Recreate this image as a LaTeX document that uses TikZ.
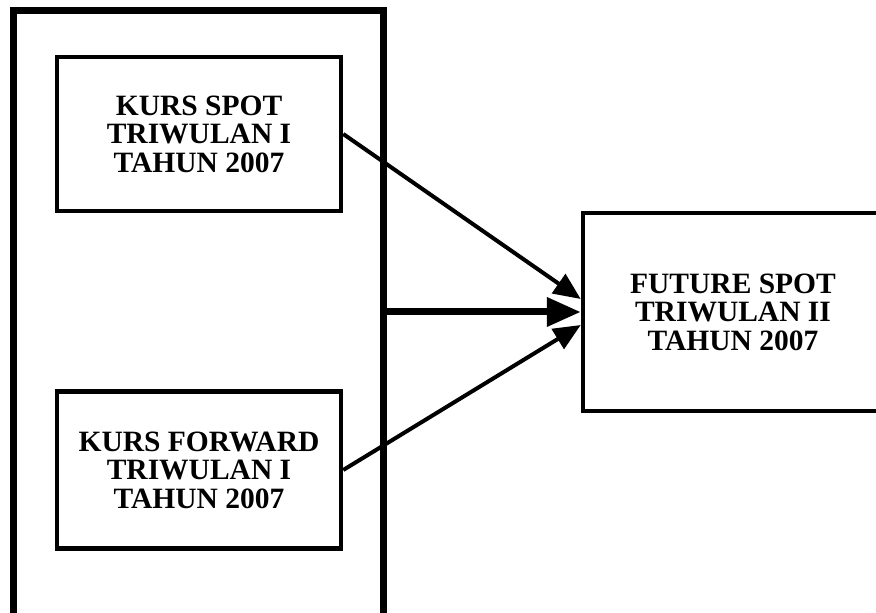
\documentclass[tikz,border=0pt]{standalone}
\usepackage{fontspec}
\setmainfont{Liberation Serif}
\usetikzlibrary{arrows.meta}

\begin{document}
\begin{tikzpicture}[x=1pt,y=1pt,
  box/.style={draw,line width=4.5pt,align=center,inner sep=0pt,
    font=\fontsize{29.5}{28.5}\selectfont\bfseries},
  arr/.style={line width=4pt,-{Triangle[length=27pt,width=23pt]}}]
  \useasboundingbox (0,0) rectangle (876,613);
  \clip (0,0) rectangle (876,613);
  % frame round the two inputs
  \node[draw,line width=7pt,minimum width=370pt,minimum height=620pt] (outer) at (198,292) {};
  \node[box,minimum width=284pt,minimum height=154pt] (spot) at (199,479) {KURS SPOT\\TRIWULAN I\\TAHUN 2007};
  \node[box,minimum width=284pt,minimum height=157pt] (forward) at (199,143) {KURS FORWARD\\TRIWULAN I\\TAHUN 2007};
  \node[box,minimum width=300pt,minimum height=198pt] (future) at (733,301) {FUTURE SPOT\\TRIWULAN II\\TAHUN 2007};
  \coordinate (mid) at (outer.east |- future.west);
  \draw[arr] (spot.east) -- ([yshift=13pt]future.west);
  \draw[arr,line width=7pt,-{Triangle[length=34pt,width=28pt]}] (mid) -- (future.west);
  \draw[arr] (forward.east) -- ([yshift=-13pt]future.west);
\end{tikzpicture}
\end{document}
